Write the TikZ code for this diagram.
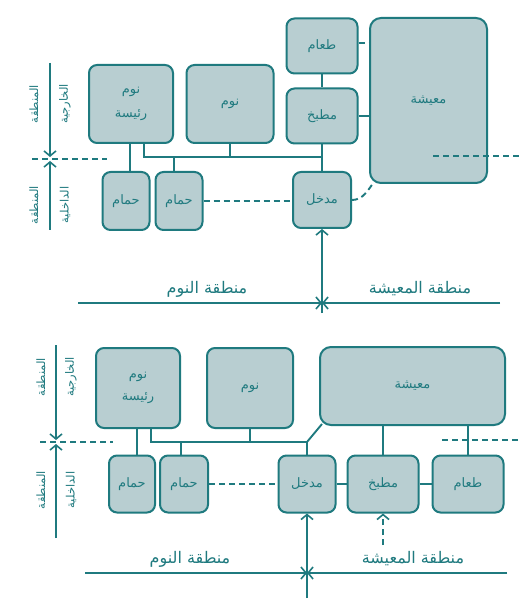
\documentclass[tikz,border=0pt]{standalone}
\usepackage{fontspec}
\newfontfamily\arabicfont[Script=Arabic]{DejaVu Sans}
\TeXXeTstate=1
\usetikzlibrary{arrows.meta}
\definecolor{tealln}{HTML}{1F7A7F}
\definecolor{boxfill}{HTML}{B8CED1}
\newcommand{\artxt}[1]{\beginR #1\endR}
\begin{document}
\begin{tikzpicture}[x=1pt,y=-1pt,
 room/.style={draw=tealln, line width=2pt, fill=boxfill, rounded corners=8pt, inner sep=0pt, text=tealln, font=\arabicfont\fontsize{13}{24}\selectfont, align=center},
 link/.style={draw=tealln, line width=1.9pt},
 dlink/.style={link, dash pattern=on 6pt off 4pt},
 tip/.style={-{Straight Barb[length=5pt,width=12pt,line width=1.6pt]}},
 zone/.style={text=tealln, font=\arabicfont\fontsize{16}{18}\selectfont, inner sep=0pt},
 side/.style={text=tealln, font=\arabicfont\fontsize{11.5}{12}\selectfont, rotate=90, inner sep=0pt}]
\useasboundingbox[fill=white] (0,0) rectangle (520,609);

% ---------- top diagram ----------
\node[room, minimum width=84pt, minimum height=78pt] (a1) at (131,104) {\artxt{نوم}\\\artxt{رئيسة}};
\node[room, minimum width=87pt, minimum height=78pt] (a2) at (230,104) {\artxt{نوم}};
\node[room, minimum width=71pt, minimum height=55pt] (a3) at (322,46) {\artxt{طعام}};
\node[room, minimum width=71pt, minimum height=55pt] (a4) at (322,116) {\artxt{مطبخ}};
\node[room, rounded corners=11pt, minimum width=117pt, minimum height=165pt] (a5) at (428.5,100.5) {\artxt{معيشة}};
\node[room, minimum width=47pt, minimum height=58pt] (a6) at (126,201) {\artxt{حمام}};
\node[room, minimum width=47pt, minimum height=58pt] (a7) at (179,201) {\artxt{حمام}};
\node[room, minimum width=58pt, minimum height=56pt] (a8) at (322,200) {\artxt{مدخل}};

\coordinate (c1) at (144,157);
\draw[link] (a1.south -| c1) -- (c1) -- (c1 -| a8.north);
\draw[link] (a4.south) -- (a8.north);
\draw[link] (a2.south) -- (a2.south |- c1);
\draw[link] ([xshift=-5pt]a7.north) -- ([xshift=-5pt]a7.north |- c1);
\draw[link] ([xshift=4pt]a6.north) -- ([xshift=4pt]a6.north |- a1.south);
\draw[link] (a3) -- (a4);
\draw[dlink] ([yshift=3pt]a3.east) -- ([yshift=3pt]a3.east -| a5.west);
\draw[link] (a4.east) -- (a4.east -| a5.west);
\draw[dlink] (a7.east) -- (a7.east -| a8.west);
\draw[dlink] (a8.east) .. controls +(11,0) and +(-6,8) .. ([xshift=5pt,yshift=2pt]a5.south west);

\coordinate (d1a) at (433,156); \coordinate (d1b) at (520,156);
\draw[dlink] (d1a) -- (d1b);
\coordinate (l1a) at (32,159); \coordinate (l1b) at (107,159);
\draw[dlink] (l1a) -- (l1b);
\coordinate (v1t) at (50,63); \coordinate (v1m) at (50,157);
\coordinate (v1n) at (50,161); \coordinate (v1b) at (50,230);
\draw[link,tip] (v1t) -- (v1m);
\draw[link,tip] (v1b) -- (v1n);

\coordinate (e1) at (322,313);
\draw[link,tip] (e1) -- (a8.south);
\coordinate (h1a) at (78,303); \coordinate (h1m) at (322,303); \coordinate (h1b) at (500,303);
\draw[link,tip] (h1a) -- (h1m);
\draw[link,tip] (h1b) -- (h1m);

\node[zone] (z1) at (207,289) {\artxt{منطقة النوم}};
\node[zone] (z2) at (420,289) {\artxt{منطقة المعيشة}};

\node[side] (s1) at (34,104) {\artxt{المنطقة}};
\node[side] (s2) at (65,104) {\artxt{الخارجية}};
\node[side] (s3) at (34,205) {\artxt{المنطقة}};
\node[side] (s4) at (65,205) {\artxt{الداخلية}};

% ---------- bottom diagram ----------
\node[room, minimum width=84pt, minimum height=80pt, font=\arabicfont\fontsize{13}{22}\selectfont] (b1) at (138,388) {\artxt{نوم}\\\artxt{رئيسة}};
\node[room, minimum width=86pt, minimum height=80pt] (b2) at (250,388) {\artxt{نوم}};
\node[room, rounded corners=11pt, minimum width=185pt, minimum height=78pt] (b3) at (412.5,386) {\artxt{معيشة}};
\node[room, minimum width=46pt, minimum height=57pt] (b4) at (132,484) {\artxt{حمام}};
\node[room, minimum width=48pt, minimum height=57pt] (b5) at (184,484) {\artxt{حمام}};
\node[room, minimum width=57pt, minimum height=57pt] (b6) at (307,484) {\artxt{مدخل}};
\node[room, minimum width=71pt, minimum height=57pt] (b7) at (383,484) {\artxt{مطبخ}};
\node[room, minimum width=71pt, minimum height=57pt] (b8) at (468,484) {\artxt{طعام}};

\coordinate (c2) at (151,442);
\draw[link] (b1.south -| c2) -- (c2) -- (c2 -| b6.north) -- ([xshift=3pt,yshift=2pt]b3.south west);
\draw[link] (b6.north) -- (b6.north |- c2);
\draw[link] ([xshift=5pt]b4.north) -- ([xshift=5pt]b4.north |- b1.south);
\draw[link] ([xshift=-3pt]b5.north) -- ([xshift=-3pt]b5.north |- c2);
\draw[link] (b2.south) -- (b2.south |- c2);
\draw[link] (b7.north) -- (b7.north |- b3.south);
\draw[link] (b8.north) -- (b8.north |- b3.south);
\draw[link] (b6) -- (b7);
\draw[link] (b7) -- (b8);
\draw[dlink] (b5) -- (b6);

\coordinate (d2a) at (442,440); \coordinate (d2b) at (520,440);
\draw[dlink] (d2a) -- (d2b);
\coordinate (l2a) at (40,442); \coordinate (l2b) at (113,442);
\draw[dlink] (l2a) -- (l2b);
\coordinate (v2t) at (56,345); \coordinate (v2m) at (56,440);
\coordinate (v2n) at (56,444); \coordinate (v2b) at (56,538);
\draw[link,tip] (v2t) -- (v2m);
\draw[link,tip] (v2b) -- (v2n);

\coordinate (k1) at (383,545);
\draw[dlink,tip] (k1) -- (b7.south);
\coordinate (e2) at (307,598);
\draw[link,tip] (e2) -- (b6.south);
\coordinate (h2a) at (85,573); \coordinate (h2m) at (307,573); \coordinate (h2b) at (507,573);
\draw[link,tip] (h2a) -- (h2m);
\draw[link,tip] (h2b) -- (h2m);

\node[zone] (z3) at (190,559) {\artxt{منطقة النوم}};
\node[zone] (z4) at (413,559) {\artxt{منطقة المعيشة}};

\node[side] (s5) at (41,377) {\artxt{المنطقة}};
\node[side] (s6) at (71,377) {\artxt{الخارجية}};
\node[side] (s7) at (41,490) {\artxt{المنطقة}};
\node[side] (s8) at (71,490) {\artxt{الداخلية}};
\end{tikzpicture}
\end{document}
